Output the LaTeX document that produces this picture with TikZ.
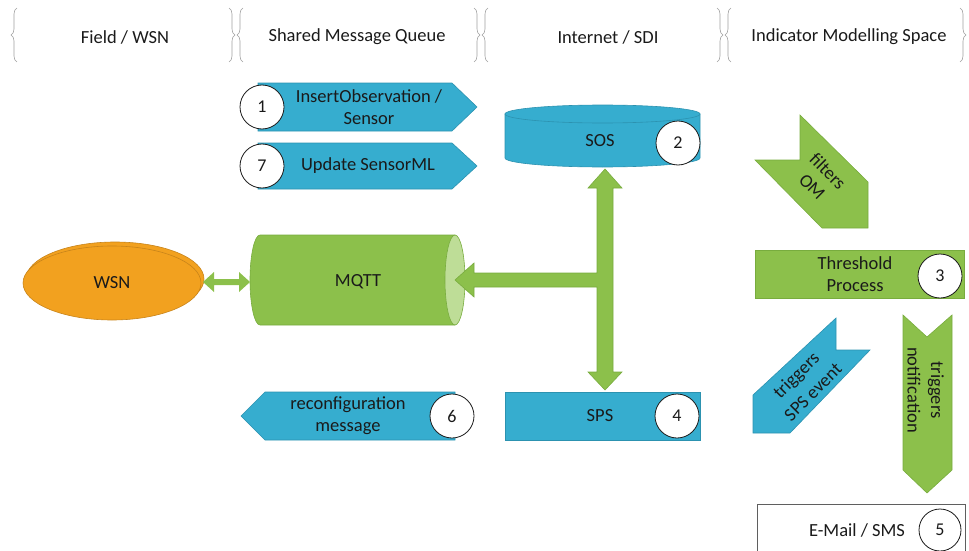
\documentclass[tikz,border=0pt]{standalone}
\usepackage{fontspec}
\setmainfont{Carlito}
\usetikzlibrary{decorations.pathreplacing,calc}
\definecolor{bfill}{HTML}{36ADCF}
\definecolor{bline}{HTML}{2C92B0}
\definecolor{gfill}{HTML}{8CC04B}
\definecolor{gline}{HTML}{78AC3E}
\definecolor{glight}{HTML}{BEDD97}
\definecolor{ofill}{HTML}{F2A11F}
\definecolor{oline}{HTML}{C8841A}
\definecolor{txt}{HTML}{1A1A1A}
\definecolor{brc}{HTML}{A0A0A0}
\tikzset{
  lbl/.style={font=\fontsize{18.5}{22}\selectfont, text=txt, align=center, inner sep=0pt},
  numc/.style={circle, draw=txt, line width=0.8pt, fill=white, minimum size=44pt, inner sep=0pt, font=\fontsize{18}{20}\selectfont, text=txt},
  bshape/.style={fill=bfill, draw=bline, line width=0.6pt},
  gshape/.style={fill=gfill, draw=gline, line width=0.6pt},
  brc/.style={draw=brc, line width=0.6pt, decorate, decoration={brace, amplitude=6pt}},
}
\begin{document}
\begin{tikzpicture}[x=1pt,y=-1pt]
\useasboundingbox (0,0) rectangle (969,551);

% header braces
\draw[brc] (17,62) -- (17,8);
\draw[brc] (229,8) -- (229,62);
\draw[brc] (243,62) -- (243,8);
\draw[brc] (474,8) -- (474,62);
\draw[brc] (488,62) -- (488,8);
\draw[brc] (717,8) -- (717,62);
\draw[brc] (731,62) -- (731,8);
\draw[brc] (960,8) -- (960,62);
\node[lbl] (h1) at (125,37) {Field / WSN};
\node[lbl] (h2) at (357,37) {Shared Message Queue};
\node[lbl] (h3) at (608,37) {Internet / SDI};
\node[lbl] (h4) at (849,37) {Indicator Modelling Space};

% message arrows 1 and 7
\draw[bshape] (258,83) -- (452,83) -- (477,107) -- (452,131) -- (258,131) -- cycle;
\node[lbl] (t1) at (369,107) {InsertObservation /\\Sensor};
\node[numc] (c1) at (262,107) {1};
\draw[bshape] (258,143) -- (452,143) -- (477,166) -- (452,189) -- (258,189) -- cycle;
\node[lbl] (t7) at (368,166) {Update SensorML};
\node[numc] (c7) at (262,166) {7};

% SOS cylinder
\draw[bshape] (505,114) -- (505,158) arc[start angle=180, end angle=0, x radius=97.5, y radius=9] -- (700,114) -- cycle;
\draw[bshape] (602.5,114) ellipse[x radius=97.5, y radius=9];
\node[lbl] (sos) at (600,141) {SOS};
\node[numc] (c2) at (678,143) {2};

% WSN
\draw[fill=ofill, draw=oline, line width=0.6pt] (115,279) ellipse[x radius=89, y radius=37];
\draw[fill=ofill, draw=oline, line width=0.6pt] (112,283) ellipse[x radius=89, y radius=37];
\node[lbl] (wsn) at (112,283) {WSN};

% MQTT cylinder
\draw[gshape] (455,235) -- (260,235) arc[start angle=270, end angle=90, x radius=10, y radius=45] -- (455,325) -- cycle;
\draw[fill=glight, draw=gline, line width=0.6pt] (455,280) ellipse[x radius=10, y radius=45];
\node[lbl] (mqtt) at (358,282) {MQTT};
\coordinate (mqttL) at (250,282);
\coordinate (mqttR) at (455,280);

% WSN <-> MQTT arrow
\coordinate (wsnR) at (203,282);
\fill[gfill] (wsnR) -- ($(wsnR)+(11,-10)$) -- ($(wsnR)+(11,-3)$) -- ($(mqttL)+(-11,-3)$) -- ($(mqttL)+(-11,-10)$) -- (mqttL)
  -- ($(mqttL)+(-11,10)$) -- ($(mqttL)+(-11,3)$) -- ($(wsnR)+(11,3)$) -- ($(wsnR)+(11,10)$) -- cycle;

% SPS
\draw[bshape] (505,392) rectangle (700,440);
\node[lbl] (sps) at (600,416) {SPS};
\node[numc] (c4) at (677,416) {4};

% SOS <-> SPS with branch to MQTT
\coordinate (sosB) at (605,169);
\coordinate (spsT) at (605,390);
\draw[gshape] (sosB) -- ($(sosB)+(17,19)$) -- ($(sosB)+(8,19)$) -- ($(spsT)+(8,-18)$) -- ($(spsT)+(17,-18)$) -- (spsT)
  -- ($(spsT)+(-17,-18)$) -- ($(spsT)+(-8,-18)$) -- (597,287) -- (474,287) -- (474,297) -- (mqttR)
  -- (474,263) -- (474,273) -- (597,273) -- ($(sosB)+(-8,19)$) -- ($(sosB)+(-17,19)$) -- cycle;

% reconfiguration message
\draw[bshape] (455,392) -- (265,392) -- (241,416) -- (265,440) -- (455,440) -- cycle;
\node[lbl] (t6) at (348,416) {reconfiguration\\message};
\node[numc] (c6) at (452,416) {6};

% filters OM
\draw[gshape] (755,160) -- (800,160) -- (800,115) -- (868,182) -- (868,228) -- (822,228) -- cycle;
\node[lbl, rotate=-45] (tf1) at (828,171) {filters};
\node[lbl, rotate=-45] (tf2) at (812,187) {OM};

% Threshold process
\draw[gshape] (755,250) rectangle (964,298);
\node[lbl] (thr) at (855,274) {Threshold\\Process};
\node[numc] (c3) at (940,276) {3};

% triggers SPS event
\draw[bshape] (836,318) -- (836,350) -- (870,350) -- (790,433) -- (753,433) -- (753,395) -- cycle;
\node[lbl, rotate=45] (ts1) at (797,376) {triggers};
\node[lbl, rotate=45] (ts2) at (813,392) {SPS event};

% triggers notification
\draw[gshape] (903,315) -- (927,337) -- (952,315) -- (952,470) -- (927,493) -- (903,470) -- cycle;
\node[lbl, rotate=-90] (tn1) at (936,390) {triggers};
\node[lbl, rotate=-90] (tn2) at (914,390) {notification};

% E-Mail / SMS
\draw[draw=txt!70, line width=0.7pt] (757,551) -- (757,504) -- (965,504) -- (965,551);
\node[lbl] (mail) at (857,530) {E-Mail / SMS};
\node[numc, minimum size=42pt] (c5) at (940,530) {5};
\end{tikzpicture}
\end{document}
